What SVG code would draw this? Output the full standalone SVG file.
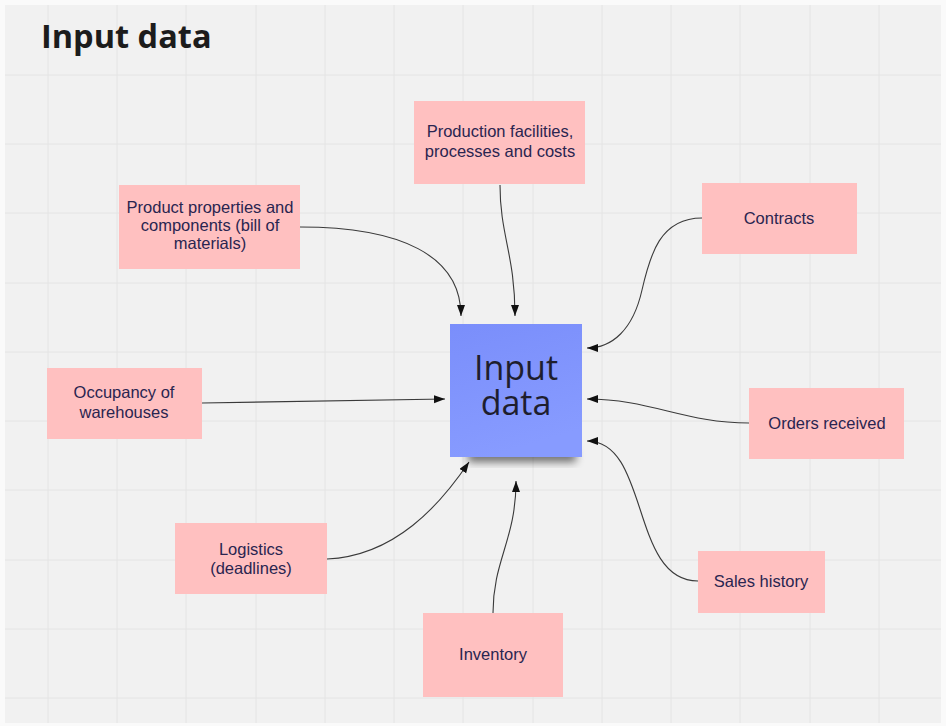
<svg xmlns="http://www.w3.org/2000/svg" width="946" height="726" viewBox="0 0 946 726">
<defs>
<style>
.grid line{stroke:#e4e4e4;stroke-width:1}
.note{fill:#ffc0c0}
.lbl{font-family:"Liberation Sans",Arial,sans-serif;font-size:16.5px;fill:#2a2550;text-anchor:middle}
.big{font-family:"Open Sans","Noto Sans",sans-serif;font-size:34px;font-weight:400;fill:#1e1e2e;text-anchor:middle}
.conn path{fill:none;stroke:#3a3a3a;stroke-width:1.1;marker-end:url(#arr)}
</style>
<marker id="arr" markerUnits="userSpaceOnUse" markerWidth="12" markerHeight="10" refX="11" refY="4" orient="auto">
<path d="M0,0 L11,4 L0,8 Z" fill="#111"/>
</marker>
<linearGradient id="blue" x1="0" y1="0" x2="0.3" y2="1">
<stop offset="0" stop-color="#7a8efb"/>
<stop offset="1" stop-color="#879bff"/>
</linearGradient>
<filter id="blur" x="-20%" y="-50%" width="140%" height="200%">
<feGaussianBlur stdDeviation="4"/>
</filter>
</defs>
<rect width="946" height="726" fill="#fafafa"/>
<rect x="5" y="5" width="936" height="718" fill="#f1f1f1"/>
<g class="grid">
<line x1="48" y1="5" x2="48" y2="723"/><line x1="117" y1="5" x2="117" y2="723"/><line x1="186" y1="5" x2="186" y2="723"/><line x1="256" y1="5" x2="256" y2="723"/><line x1="325" y1="5" x2="325" y2="723"/><line x1="394" y1="5" x2="394" y2="723"/><line x1="463" y1="5" x2="463" y2="723"/><line x1="533" y1="5" x2="533" y2="723"/><line x1="602" y1="5" x2="602" y2="723"/><line x1="671" y1="5" x2="671" y2="723"/><line x1="740" y1="5" x2="740" y2="723"/><line x1="810" y1="5" x2="810" y2="723"/><line x1="879" y1="5" x2="879" y2="723"/>
<line x1="5" y1="75" x2="941" y2="75"/><line x1="5" y1="144" x2="941" y2="144"/><line x1="5" y1="213" x2="941" y2="213"/><line x1="5" y1="283" x2="941" y2="283"/><line x1="5" y1="352" x2="941" y2="352"/><line x1="5" y1="421" x2="941" y2="421"/><line x1="5" y1="490" x2="941" y2="490"/><line x1="5" y1="560" x2="941" y2="560"/><line x1="5" y1="629" x2="941" y2="629"/><line x1="5" y1="698" x2="941" y2="698"/>
</g>
<text x="41" y="48" font-family="'Open Sans','Noto Sans',sans-serif" font-weight="bold" font-size="32.5" fill="#1c1c1c">Input data</text>
<g class="conn">
<path d="M300,227 C400,227 461,255 461,316"/>
<path d="M500,185 C500,235 515,255 515,316"/>
<path d="M702,218 C660,218 650,255 642,290 C633,330 612,348 587,348"/>
<path d="M202,403 L445,399"/>
<path d="M749,423 C685,423 650,399 587,399"/>
<path d="M698,581 C630,581 650,441 587,441"/>
<path d="M327,559 C395,556 440,505 469,462"/>
<path d="M493,613 C493,560 516,540 516,481"/>
</g>
<g id="center">
<rect x="468" y="450" width="108" height="12" fill="#000" opacity="0.55" filter="url(#blur)"/>
<rect x="450" y="324" width="132" height="133" fill="url(#blue)"/>
<text class="big"><tspan x="516" y="380">Input</tspan><tspan x="516" y="415">data</tspan></text>
</g>
<g id="production"><rect class="note" x="414" y="101" width="171" height="83"/><text class="lbl" x="500" y="137">Production facilities,</text><text class="lbl" x="500" y="157">processes and costs</text></g>
<g id="product"><rect class="note" x="119" y="185" width="181" height="84"/><text class="lbl" x="210" y="213">Product properties and</text><text class="lbl" x="210" y="231">components (bill of</text><text class="lbl" x="210" y="249">materials)</text></g>
<g id="contracts"><rect class="note" x="702" y="183" width="155" height="71"/><text class="lbl" x="779" y="224">Contracts</text></g>
<g id="occupancy"><rect class="note" x="47" y="368" width="155" height="71"/><text class="lbl" x="124" y="398">Occupancy of</text><text class="lbl" x="124" y="418">warehouses</text></g>
<g id="orders"><rect class="note" x="749" y="388" width="155" height="71"/><text class="lbl" x="827" y="429">Orders received</text></g>
<g id="sales"><rect class="note" x="698" y="551" width="127" height="62"/><text class="lbl" x="761" y="587">Sales history</text></g>
<g id="logistics"><rect class="note" x="175" y="523" width="152" height="71"/><text class="lbl" x="251" y="555">Logistics</text><text class="lbl" x="251" y="574">(deadlines)</text></g>
<g id="inventory"><rect class="note" x="423" y="613" width="140" height="84"/><text class="lbl" x="493" y="660">Inventory</text></g>
</svg>
